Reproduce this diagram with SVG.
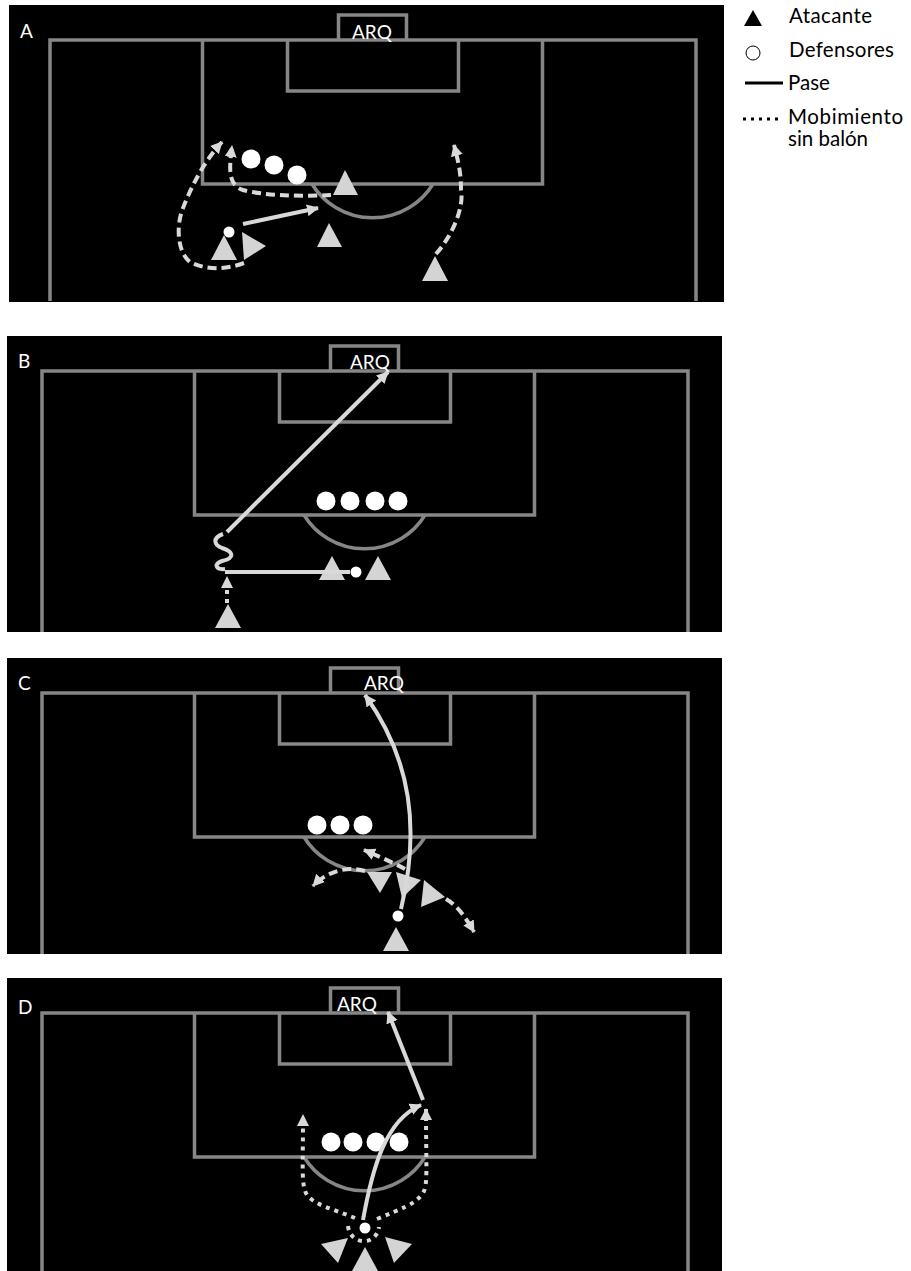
<svg xmlns="http://www.w3.org/2000/svg" width="911" height="1271" viewBox="0 0 911 1271">
<style>
.bg{fill:#000}
.f{fill:none;stroke:#868686;stroke-width:3.500}
.t{fill:#fff;font:19px Lato,"Noto Sans",sans-serif}
.l{fill:#000;font:20.500px Lato,"Noto Sans",sans-serif}
.tri{fill:#d4d4d4}
.d{fill:#fff}
.p{fill:none;stroke:#d9d9d9;stroke-width:4}
.m{fill:none;stroke:#d9d9d9;stroke-width:4;stroke-dasharray:9 5}
.s{fill:none;stroke:#d9d9d9;stroke-width:4;stroke-dasharray:4 5}
</style>
<defs>
<marker id="a" markerUnits="userSpaceOnUse" markerWidth="13" markerHeight="13" refX="11" refY="6.500" orient="auto"><path d="M0 0.500L12 6.500L0 12.500Z" fill="#d9d9d9"/></marker>
<g id="field"><path class="f" d="M0 301V40H646V301M152.500 40V184H492.500V40M237.500 40V91H408.500V40M288.500 40V15H356.500V40M262 184A71 71 0 0 0 383 184"/></g>
</defs>
<g id="panel-a"><rect class="bg" x="9" y="5" width="715" height="297"/><use href="#field" x="50"/><text class="t" x="20" y="38">A</text><text class="t" x="352" y="39">ARQ</text>
<g class="d"><circle cx="251" cy="159" r="9.500"/><circle cx="274" cy="165" r="9.500"/><circle cx="297" cy="175" r="9.500"/><circle cx="229" cy="232" r="5.500"/></g>
<g class="tri"><path d="M345 170L358 195H333Z"/><path d="M329 223L342 247H317Z"/><path d="M224 235L237 260H211Z"/><path d="M242 232L266 246L244 260Z"/><path d="M435 256L448 281H422Z"/></g></g>
<g id="panel-b"><rect class="bg" x="7" y="336" width="715" height="296"/><use href="#field" x="42" y="331"/><text class="t" x="18" y="368">B</text><text class="t" x="350" y="369">ARQ</text>
<g class="d"><circle cx="326" cy="501" r="9.500"/><circle cx="350" cy="501" r="9.500"/><circle cx="375" cy="501" r="9.500"/><circle cx="398" cy="501" r="9.500"/><circle cx="356" cy="572" r="5.500"/></g>
<g class="tri"><path d="M332 556L345 580H319Z"/><path d="M378 556L391 580H365Z"/><path d="M228 604L241 628H215Z"/></g></g>
<g id="panel-c"><rect class="bg" x="7" y="658" width="715" height="296"/><use href="#field" x="42" y="653"/><text class="t" x="18" y="690">C</text><text class="t" x="364" y="690">ARQ</text>
<g class="d"><circle cx="317" cy="825" r="9.500"/><circle cx="340" cy="825" r="9.500"/><circle cx="363" cy="825" r="9.500"/><circle cx="398" cy="916" r="5.500"/></g>
<g class="tri"><path d="M380 893L392 872H367Z"/><path d="M396 872L421 880L402 898Z"/><path d="M424 880L445 897L421 907Z"/><path d="M396 927L409 951H383Z"/></g></g>
<g id="panel-d"><rect class="bg" x="7" y="978" width="715" height="293"/><use href="#field" x="42" y="973"/><text class="t" x="18" y="1014">D</text><text class="t" x="337" y="1011">ARQ</text>
<g class="d"><circle cx="331" cy="1142" r="9.500"/><circle cx="353" cy="1142" r="9.500"/><circle cx="376" cy="1142" r="9.500"/><circle cx="399" cy="1142" r="9.500"/><circle cx="365" cy="1228" r="5.500"/></g>
<g class="tri"><path d="M365 1247L378 1271H352Z"/><path d="M321 1244L348 1238L338 1263Z"/><path d="M385 1237L412 1244L394 1263Z"/></g></g>
<g id="connectors">
<path class="p" marker-end="url(#a)" d="M243 224L318 208"/>
<path class="m" marker-end="url(#a)" d="M331 195C300 197 260 195 243 190C228 185 229 170 232 146"/>
<path class="m" marker-end="url(#a)" d="M244 263C225 270 205 270 190 262C177 252 176 225 183 208C192 185 205 160 222 142"/>
<path class="m" marker-end="url(#a)" d="M436 254C455 232 464 205 461 190C461 172 458 160 454 145"/>
<path class="p" marker-end="url(#a)" d="M227 532L388 372"/>
<path class="p" d="M223 534C212 538 214 545 222 548C234 552 235 558 222 561C213 564 216 570 225 569"/>
<path class="p" d="M225 572H350"/>
<path class="s" marker-end="url(#a)" d="M227 603V577"/>
<path class="p" marker-end="url(#a)" d="M401 909C420 830 412 760 365 695"/>
<path class="m" marker-end="url(#a)" d="M405 869C392 862 378 856 364 850"/>
<path class="m" marker-end="url(#a)" d="M365 871C350 866 328 870 313 886"/>
<path class="m" marker-end="url(#a)" d="M446 899C458 906 466 918 474 932"/>
<path class="p" marker-end="url(#a)" d="M363 1220C372 1170 385 1120 421 1105"/>
<path class="p" marker-end="url(#a)" d="M423 1100L388 1012"/>
<path class="s" marker-end="url(#a)" d="M355 1218C330 1208 315 1205 307 1195C301 1185 303 1170 303 1115"/>
<path class="s" marker-end="url(#a)" d="M377 1219C400 1209 415 1205 423 1193C428 1185 426 1170 426 1109"/>
<path class="s" d="M348 1226C350 1245 376 1247 379 1227"/>
</g>
<g id="legend">
<path d="M753 10L762 26H744Z"/><circle cx="753" cy="53" r="7" fill="#fff" stroke="#000"/>
<path d="M745 83H783" stroke="#000" stroke-width="3"/><path d="M743 119H780" stroke="#000" stroke-width="3" stroke-dasharray="3 5"/>
<text class="l" x="789" y="23" textLength="83">Atacante</text><text class="l" x="789" y="57" textLength="105">Defensores</text><text class="l" x="788" y="90">Pase</text><text class="l" x="788" y="124" textLength="115">Mobimiento</text><text class="l" x="788" y="146">sin balón</text>
</g>
</svg>
